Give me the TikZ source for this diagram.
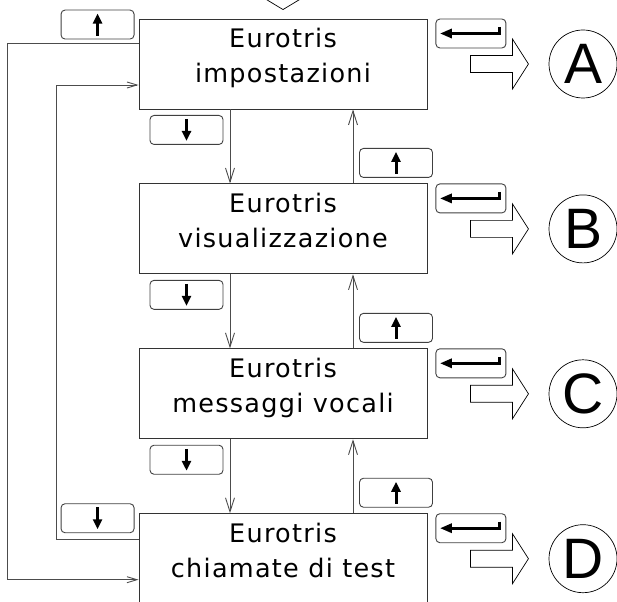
\documentclass[tikz,border=0pt]{standalone}
\usepackage{fontspec}
\setmainfont{DejaVu Sans}[LetterSpace=5]
\newfontfamily\letterfont{Liberation Sans}
\usetikzlibrary{arrows.meta,positioning,calc}

\begin{document}
\begin{tikzpicture}[
  x=1pt, y=-1pt,
  box/.style={draw=black!80, line width=0.9pt, minimum width=288pt, minimum height=90pt,
              inner sep=0pt, align=center, font=\fontsize{25.5}{35}\selectfont,
              text height=55pt, text depth=17pt},
  key/.style={draw=black!75, line width=0.9pt, rounded corners=4pt,
              minimum width=73pt, minimum height=29pt, inner sep=0pt},
  keyarrow/.style={line width=3pt, -{Triangle[length=10pt,width=9pt]}},
  link/.style={draw=black!70, line width=0.9pt, -{Straight Barb[length=14pt,width=9pt]}},
  sidelink/.style={draw=black!70, line width=0.9pt, -{Straight Barb[length=10pt,width=6pt]}},
  letter/.style={circle, draw, line width=0.7pt, minimum size=68pt, inner sep=0pt,
                 font=\letterfont\fontsize{57}{57}\selectfont},
  block/.style={draw, line width=0.7pt, fill=white}
]
\useasboundingbox (0,0) rectangle (617,601);

% menu pages
\node[box] (imp) at (283,64) {Eurotris\\impostazioni};
\node[box, below=74pt of imp] (vis) {Eurotris\\visualizzazione};
\node[box, below=74pt of vis] (voc) {Eurotris\\messaggi vocali};
\node[box, below=74pt of voc] (test) {Eurotris\\chiamate di test};

% entry from above
\draw[line width=0.7pt] ($(imp.north)+(-29,-26.5)$) -- ($(imp.north)+(0,-9)$) -- ($(imp.north)+(29,-26.5)$);

% down / up between pages
\foreach \a/\b in {imp/vis, vis/voc, voc/test} {
  \draw[link] ($(\a.south)+(-53,0)$) -- ($(\b.north)+(-53,0)$);
  \draw[link] ($(\b.north)+(70,0)$) -- ($(\a.south)+(70,0)$);
  \node[key] (dn\a) at ($(\a.south)+(-96.5,20.5)$) {};
  \node[key] (up\b) at ($(\b.north)+(113,-20.5)$) {};
  \draw[keyarrow] ($(dn\a.center)+(0,-11)$) -- ($(dn\a.center)+(0,11)$);
  \draw[keyarrow] ($(up\b.center)+(0,11)$) -- ($(up\b.center)+(0,-11)$);
}

% wrap round
\draw[sidelink] ($(imp.west)+(0,-21)$) -- ++(-131,0) |- ($(test.west)+(0,21)$);
\draw[sidelink] ($(test.west)+(0,-19)$) -- ++(-82,0) |- ($(imp.west)+(0,21)$);
\node[key] (upimp) at ($(imp.north west)+(-41,6)$) {};
\draw[keyarrow] ($(upimp.center)+(0,11)$) -- ($(upimp.center)+(0,-11)$);
\node[key] (dntest) at ($(test.north west)+(-41,5)$) {};
\draw[keyarrow] ($(dntest.center)+(0,-11)$) -- ($(dntest.center)+(0,11)$);

% enter to submenus
\foreach \p/\l in {imp/A, vis/B, voc/C, test/D} {
  \node[key, minimum width=70pt, right=8pt of \p.north east, anchor=north west] (enter\l) {};
  \draw[line width=3pt, -{Triangle[length=12pt,width=9pt]}]
    ($(enter\l.center)+(29,-6.5)$) -- ($(enter\l.center)+(29,0)$) -- ($(enter\l.center)+(-31,0)$);
  \draw[block] ($(\p.east)+(43,-8.5)$) -- ++(42,0) -- ++(0,-16.5) -- ++(16,25)
    -- ++(-16,25) -- ++(0,-16.5) -- ++(-42,0) -- cycle;
  \node[letter] (sub\l) at (583,0 |- \p) {\l};
}
\end{tikzpicture}
\end{document}
